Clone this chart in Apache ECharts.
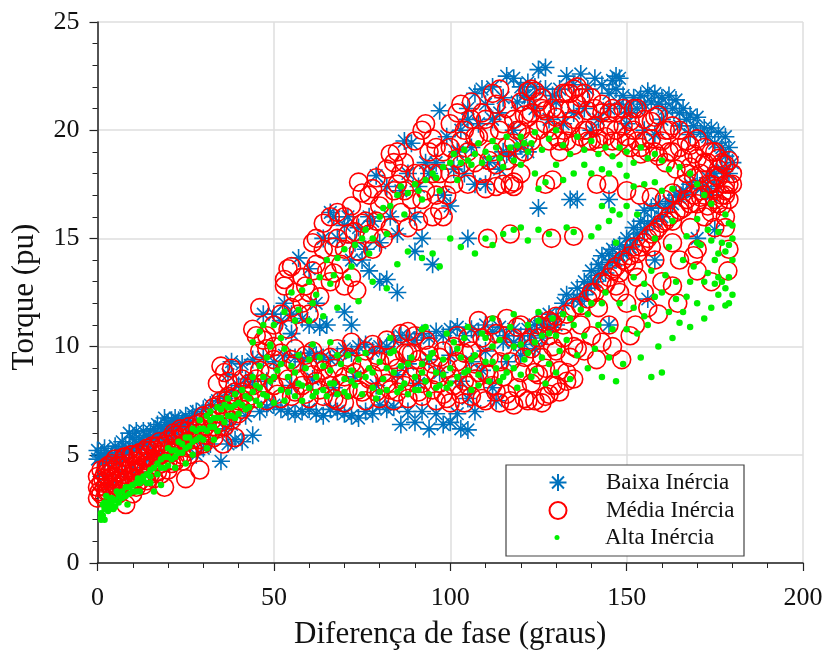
<!DOCTYPE html>
<html>
<head>
<meta charset="utf-8">
<title>Torque x diferença de fase</title>
<script src="https://cdn.jsdelivr.net/npm/echarts@6/dist/echarts.min.js"></script>
<style>
  html, body { margin: 0; padding: 0; background: #fff; }
  #chart { width: 827px; height: 650px; }
</style>
</head>
<body>
<div id="chart"></div>
<script>
// pontos: [diferenca de fase, torque]
const baixaInercia = [
  [0,5.2],[1,5],[2,5.3],[1,4.9],[3,5.1],[4,5],[5,5.4],[6,5.2],[7,5.6],[8,5.3],[9,6],[10,5.8],[11,6.1],[12,5.7],[13,6.1],[14,5.9],[15,6.1],[16,6.2],[17,6.4],[18,6.3],[19,6.7],[20,6.5],[21,6.6],[22,6.7],[23,6.6],[24,6.5],[25,6.8],[26,6.6],[27,6.9],[28,7],[30,7.1],[32,7.3],[34,7.5],[36,7.6],[38,7.9],[40,8.2],[42,8.5],[44,8.4],
  [0,4.8],[2,4.7],[3,4.6],[4,4.8],[5,4.9],[6,4.7],[7,5],[8,5.1],[9,5.2],[10,5.3],[11,5.5],[12,5.4],[13,5.6],[14,5.5],[15,5.7],[16,5.8],[17,5.9],[18,5.9],[19,6],[20,6.1],[21,6.2],[22,6.3],[23,6.3],[24,6.4],[26,6.4],
  [2,4],[3,3.6],[5,3.8],[8,4],[10,4.4],[12,4.2],[14,4.8],[16,5],[18,5],[20,5.5],[22,5.6],[24,5.8],[26,6],[28,5],[30,5.3],[32,5.5],[35,4.7],[37,5.5],[39,5.7],[41,5.6],[44,5.9],[36,6.2],[38,6.4],[42,6.8],[46,7],[48,7.2],
  [50,7.3],[52,7.1],[54,7],[56,6.9],[58,7],[60,7.1],[62,6.9],[64,6.8],[66,7.1],[68,7],[70,6.9],[72,6.8],[74,6.7],[76,7],[78,6.9],[80,7.3],[82,7.1],[84,7.2],[86,6.4],[88,7],[90,6.5],[92,7],[94,6.2],[96,6.9],[98,6.4],[100,6.5],[102,6.9],[103,6.2],[105,6.15],[107,7],
  [37,8.7],[38,9.3],[41,9.2],[44,9.4],[47,9.5],[50,9.3],[53,9.6],[56,9.5],[58,9.3],[60,9.7],[62,9.6],[64,9.5],[66,9.4],[68,9.6],[70,9.9],[72,9.7],[74,10],[76,10.1],[78,9.8],[80,10],[82,10],[84,10.3],[86,10.5],[88,10.4],[90,10.3],[92,10.6],[94,10.4],[96,10.7],[98,10.5],[100,10.8],[102,10.9],[104,10.5],[106,10.8],[108,10.7],[110,11],[112,10.7],[114,10.9],[116,10.5],[118,10.8],[120,10.5],[122,10.8],[124,11],[126,11],
  [48,8.4],[55,8.2],[61,8.5],[67,8.1],[73,8.6],[79,8.2],[85,8.7],[91,8.3],[97,8.8],[103,8.4],[109,8.9],[112,8.1],[116,9.3],[120,9.6],[124,9.9],[110,9.8],[106,9.3],[100,9.6],[94,9.4],[88,9.2],[105,7.6],[113,7.5],[115,10.2],[118,10.2],[121,10.1],[123,10.5],[126,10.4],[128,10.9],[130,11],
  [126,11.2],[128,11.5],[130,11.4],[132,12],[133,12.4],[135,12.2],[136,12.7],[138,13],[140,13.5],[142,13.8],[143,14.2],[145,14.3],[146,14.5],[148,14.7],[150,15],[152,15.5],[154,15.8],[155,16.3],[157,16.4],[159,16.6],[160,16],[162,16.7],[164,17],[166,17.2],[168,17.5],[170,17.6],[141,13],[144,13.4],[147,14],[138,12.4],[149,14.3],[151,14.6],[145,11],[156,12.2],[158,14],[175,15.4],[170,15],
  [137,12.1],[139,12.7],[140,13],[142,13.3],[143,13.6],[145,13.9],[146,14],[148,14.2],[150,14.5],[152,14.9],[153,15.2],[155,15.4],[156,15.7],[158,15.8],[161,16.4],[163,16.6],[165,16.9],[167,17.1],[171,17.3],[173,17.3],[174,17],[176,17.4],
  [180,18.5],[179,19.2],[178,19.7],[176,19.9],[174,20.1],[172,20.1],[170,20.6],[168,20.7],[166,21],[164,21.4],[162,21.6],[160,21.5],[158,21.7],[156,21.8],[154,21.6],[152,21.5],[150,21],[148,22.4],[146,22.3],[147,22.5],[143,22.1],[141,22.4],[137,22.6],[133,22.5],[127,22.9],[125,22.8],[122,22.2],[120,22],[118,22.4],[116,22.5],[112,22],[109,21.9],[107,21.7],[178,18.8],[177,18.2],[175,18],[173,17.8],[179,18],
  [177,19.2],[175,19.4],[173,19.7],[171,19.9],[169,20.2],[167,20.5],[165,20.8],[163,21],[161,21],[159,21.2],[157,21.3],[155,21.2],[153,21],[151,20.8],[149,21.6],[147,21.9],[145,21.7],[139,21.9],[135,22.1],[131,21.9],[129,21.6],[127,21.9],[124,22],[121,21.6],[119,21.3],[115,21.5],[114,20.8],[110,21.2],[105,21],
  [105,20.5],[108,20.3],[112,20.5],[115,19],[118,18.9],[120,19.3],[122,19],[118,20],[124,21],[128,20.5],[132,20.3],[135,20.8],[138,21],[140,20],[142,20.5],[145,21],[150,20.3],[155,20],[158,19.8],[160,20.5],[122,21.5],[130,21.3],[148,21.2],[165,20.2],[168,19.8],
  [47,11.5],[50,11.5],[52,11.2],[53,12],[55,11.5],[57,14.1],[60,13.6],[62,12],[64,15],[66,16.2],[68,15],[71,16],[72,14],[74,15.5],[75,14],[77,16],[79,17.9],[82,17.4],[87,19.5],[88,18],[90,16],[92,15],[94,18],[97,20.9],[98,17],[100,16.5],[102,19],[104,18],[107,17.5],[110,17.5],[105,15],[95,13.8],[90,14.4],[85,12.5],[80,13],[77,13.5],[82,13.1],[70,11.6],[72,11],[65,11],[60,11],[58,11.3],[63,10.9],[55,10.6],[125,16.4],[134,16.8],[136,16.8],[145,16.8],[85,15.2],[80,14.8],[89,19.4],[96,18.5],[101,18.2],
  [67,16],[70,15.6],[73,14.8],[76,14.5],[78,15.8],[83,16],[86,17.2],[91,17.4],[93,18.5],[99,19.7],[103,20],[106,19.2],[111,18.5],[114,18.2],[116,18.9]
];

const mediaInercia = [
  [0,3],[0,3.5],[0,4],[1,3.2],[1,3.7],[1,4.3],[2,3],[2,3.5],[2,4.1],[3,3.3],[3,3.9],[3,4.5],[4,3.4],[4,4],[4,4.6],[5,3.4],[5,4],[5,4.8],[6,3.5],[6,4.2],[7,3.7],[7,4.5],[8,3.8],[8,2.7],[8,4.9],[9,4],[9,4.6],[10,3.2],[10,4.2],[10,5],[11,3.9],[11,4.7],[12,4.3],[12,5.1],[13,3.6],[13,4.5],[14,4.1],[14,5.3],[15,4.4],[15,5.2],[16,4.7],[16,3.9],[17,4.5],[17,5.4],[18,5],[18,4.1],[19,3.5],[19,5.2],[20,4.7],[20,5.7],[21,5.1],[22,4.7],[22,5.9],[23,5.3],[24,5],[24,6.1],[25,3.9],[25,5.6],[26,5.3],[26,6.3],[27,5.7],[28,6.4],[29,4.3],[29,5.7],[30,6.2],[30,6.8],[31,6.5],[32,6.9],[33,6.3],[33,7.2],[34,6.9],[35,7.5],[35.6,5.5],[36,7.1],[37,7.7],[38,7.3],[39,5.8],[39,7.9],[40,7.5],
  [0.5,3.3],[1.5,3.9],[2.5,3.3],[2.5,4.4],[3.5,3.6],[3.5,4.2],[4.5,3.7],[4.5,4.3],[5.5,3.8],[5.5,4.5],[6.5,3.9],[6.5,4.6],[7.5,4.1],[7.5,4.9],[8.5,4.3],[9.5,4.4],[9.5,5],[10.5,4.5],[11.5,4.3],[11.5,5],[12.5,4.7],[13.5,4.9],[13.5,5.2],[14.5,4.7],[15.5,4.8],[15.5,5.4],[16.5,5.2],[17.5,5],[17.5,5.6],[18.5,5.4],[19.5,5.5],[20.5,5.3],[21.5,5.5],[21.5,6],[22.5,5.7],[23.5,5.8],[23.5,6.2],[24.5,5.9],[25.5,6.1],[26.5,5.9],[27.5,6.1],[28.5,6.2],[29.5,6.5],[30.5,6.3],[31.5,6.1],[32.5,6.6],[34.5,7.3],[36.5,7.5],[38.5,7.6],[41,7.9],[41,7.1],[43,7.7],[43,8.3],[45,7.6],[45,8.5],
  [6,3.2],[9,3.5],[11,3.5],[12,3.8],[14,3.8],[15,4.1],[17,4.2],[18,4.6],[20,4.3],[21,4.6],[23,4.9],[24,4.7],[26,5],[27,5.3],[28,5.4],[30,5.5],[31,5.9],[32,6],[33,5.8],[34,6.2],[35,6.5],[36,6.3],[37,6.7],[38,6.6],[40,6.9],
  [34,8.3],[35,9.1],[36,8.8],[37,8.4],[38,9],[41,8.5],[43,8.9],[44,10.8],[46,11.8],[45,10.5],[47,10.3],[48,9.9],[50,11],[53,12.8],[54,13.6],[55,13.7],[53,13.1],[56,12.5],[58,12],[60,12.5],[61,14.8],[62,15],[64,15.7],[65,13.5],[66,16],[68,15],[70,14.5],[72,16.5],[74,17.6],[75,17.1],[73,15.3],[76,15.8],[78,14.5],[80,16.5],[82,18.2],[83,18.9],[84,18.5],[85,17.5],[86,16.2],[88,15.5],[92,20],[93,20.3],[94,19],[95,18],[96,17],[98,16],[100,20.3],[102,20.8],[103,21.2],[104,20],[105,19],[107,18.5],[110,20.5],[112,21.7],[113,21.2],[115,20.3],[112,19],[115,17.5],[118,17.4],[118,20.5],[120,21.3],[122,21.8],[90,18],[92,16.8],[100,18],[102,18.7],[96,19.2],[78,17.3],[86,18],[70,16],[58,13.2],[62,13.8],[108,19.7],[111,19.9],[116,19.2],
  [48,10.5],[50,10],[52,11.5],[54,10.8],[55,11.8],[57,11.5],[59,12.8],[60,11.5],[61,13.5],[63,12.3],[64,14.5],[66,13],[67,14.6],[68,16.2],[69,13.8],[71,15.2],[72,13.2],[74,14.4],[75,15.7],[77,15.2],[77,17],[79,15.8],[79,17.8],[81,15],[81,16.8],[83,15.5],[84,17.2],[85,19],[87,17.2],[87,18.5],[89,16.8],[90,19.5],[91,15.8],[92,18],[93,17.2],[95,16],[95,19.6],[97,18],[97,16.3],[98,19],[99,17],[100,19.2],[101,17.5],[103,18.4],[103,19.5],[105,17.5],[106,20.5],[106,21.3],[107,19.7],[109,18],[109,20.8],[110,17.3],[111,18.6],[113,18.4],[114,20],[114,21.9],[116,18.6],[116,21],[117,17.5],[119,18.8],[119,20],[120,18],[121,19],[121,20.7],[122,19.7],[123,20.8],[123,21.9],
  [73.5,12.6],[67,13.4],[70,12.8],[110.6,15],[117,15.2],[128.7,15],[135,15.1],[113,17.4],[118,17.6],[127,17.5],[129,17.7],[141.5,17.5],[145,17.5],[150,17.2],[153.7,17],[157,16.9],[160.7,16.8],[163,17.1],[166,17.5],[131,19],[135,19.3],[139,19.5],
  [180,18],[179,17.5],[178,18.4],[177,17],[176,18.7],[175,19],[174,17.5],[172,19.2],[171,18],[170,19.6],[168,18.3],[167,19.5],[165,20],[163,20.2],[161,20],[159,20.7],[157,20.4],[155,19.5],[153,21],[151,20.4],[149,20.2],[147,20],[145,20.8],[143,20.8],[141,21],[139,20.9],[137,21.5],[135,21.9],[133,21.7],[134,21],[136,22],[131,19.5],[129,20],[127,20.3],[125,20],[123,19.5],[178,17.2],[176,17.8],[173,18.5],[169,18.9],[162,19],[158,19],[154,19.2],[150,19.4],[146,19.2],[142,19.6],[138,20],[134,20.2],[130,20.6],[126,21],[122,20.6],[120,20],[118,19.4],[124,21.8],[126,21.5],
  [125,21.3],[127,20.9],[128,19.5],[129,21],[130,19.7],[131,21],[132,20],[132,21.7],[133,19.5],[134,21.7],[135,20.5],[136,21.2],[137,19.7],[138,21.7],[139,20],[140,19.5],[140,21.5],[141,20.2],[142,19.4],[143,21.2],[144,19.7],[145,20.2],[146,19.5],[146,21],[147,20.8],[148,19.5],[149,21],[150,19.7],[151,19.2],[152,20],[152,21],[153,19.5],[154,18.9],[155,20.5],[156,19],[157,19.6],[158,20.6],[159,18.8],[160,19.5],[161,18.5],[162,20],[163,19],[164,18.2],[165,19.2],[166,18.7],[167,18],[168,19.3],[169,17.8],[170,18.7],[171,17.2],[172,18.5],[173,17.5],[174,19],[175,17.9],[176,18.2],[177,18.5],[178,17],[179,18.6],[180,17.5],[175,16.8],[177,16.5],[173,16.5],[179,16.8],[178,15.5],
  [179,14.5],[178.7,13.5],[174,13],[170,13.5],[169,14.2],[164.5,12],[163,12.8],[159,11.5],[152.5,11],[151,10.5],[148.6,9.4],[141.5,9.4],[135,8.5],[133,8.4],[128,7.8],[146,10],[143,10.2],[138,9.8],[156,11.8],
  [125,11],[130,11.4],[135,11.8],[140,12.5],[143,13],[146,13.5],[149,14],[152,14.6],[155,14.8],[158,15.3],[160,15.7],[162,16],[165,16.3],[168,16.6],[172,17],[175,17.3],[178,17.5],[135,10],[140,10.5],[145,11],[150,12],[155,12.5],[160,13],[165,14],[170,14.5],[175,15.5],[178,16],[148,12.5],[153,13.2],[158,14],[163,14.8],[168,15.5],[172,16],[128,10.5],[132,11],[137,11],[142,11.8],[147,12.8],[152,13.7],[157,14.6],
  [127,10.9],[129,11.1],[133,11.5],[137,11.9],[139,12.2],[141,12.5],[144,12.9],[145,13.2],[147,13.7],[148,13.4],[150,13.9],[151,14.2],[153,14.3],[154,14.6],[156,15],[157,15.2],[159,15.5],[161,15.8],[163,15.8],[164,16.2],[166,16.4],[167,16.8],[169,17],[170,16.6],[171,16.9],[174,16.2],[176,16.6],
  [42,7.4],[44,8.2],[46,7.8],[46,8.9],[48,7.5],[50,8.2],[50,9.4],[52,7.6],[54,8.5],[56,7.9],[56,9.2],[58,8.2],[60,7.6],[60,9],[62,8.4],[64,7.7],[64,8.9],[66,9.5],[66,8.2],[68,7.5],[70,8.6],[70,7.4],[72,9.2],[74,8],[76,9.8],[76,7.5],[78,10.1],[78,8.7],[80,7.6],[80,9.3],[82,10.3],[82,8.3],[84,7.5],[84,9.4],[86,10.6],[86,8.5],[88,7.6],[88,10.7],[90,9],[90,10.5],[92,7.7],[92,8.3],[94,9.6],[94,10],[96,7.5],[96,8.7],[98,9.8],[98,7.8],[100,8.7],[100,7.4],[102,9.3],[102,10.5],[104,7.4],[104,8.4],[106,9.8],[106,7.7],[108,8.8],[108,11.2],[110,7.5],[110,10.2],[112,8.2],[112,11],[114,7.4],[114,9.3],[116,11.3],[116,7.8],[118,7.3],[118,10.4],[120,8.8],[120,11],[122,7.5],[122,10.2],[124,7.5],[124,8.8],[126,7.4],[126,9.5],[128,11.2],[130,8.2],[130,9.8],[132,10.4],[133,8.8],[136,9.9],
  [46,9.8],[52,9.7],[56,9.9],[61,9.8],[68,9.9],[72,10.2],[88,9.7],[104,9.7],[110,8.8],
  [47,8.3],[49,8.8],[51,7.8],[53,8.9],[55,7.7],[55,9.4],[57,8.5],[59,7.8],[59,9.6],[61,8.7],[63,8],[63,9.3],[65,8.6],[67,7.6],[67,9],[69,8.3],[71,8],[71,9.5],[73,8.8],[75,7.9],[75,9.2],[77,8.5],[79,7.9],[79,9.6],[81,8.8],[83,8],[83,9.5],[85,7.9],[85,9],[87,9.7],[87,8.2],[89,8.6],[89,9.7],[91,7.9],[91,9.4],[93,8.8],[93,10.3],[95,8],[95,9.2],[97,9.5],[97,8.3],[99,7.6],[99,9],[101,8.2],[101,10],[103,7.8],[103,9],[105,8.2],[105,10.4],[107,8.5],[107,9.2],[109,7.6],[109,10.4],[111,8.7],[111,9.5],[113,7.9],[113,10.6],[115,8.6],[115,10],[117,7.5],[117,9.3],[119,8.1],[119,10.9],[121,9.5],[121,7.6],[123,8.3],[123,9.9],[125,8.7],[125,10.4],[127,7.7],[127,9],[129,8.2],[129,10],[131,8.9],[131,7.9],[134,9.5]
];

const altaInercia = [
  [1,2],[1,2.3],[1.5,2.7],[2,2],[2,2.5],[2.5,3.1],[3,2.4],[3.5,2.9],[4,3],[4.5,2.5],[5,2.9],[5.5,3.3],[6,3.1],[7,3],[8,3.5],[8.5,2.7],[9,3.2],[10,3.6],[11,3.3],[11.5,3.9],[12,3.3],[13,3.8],[14,4.1],[15,3.7],[15,4.3],[16,3.3],[17,4.1],[18,4.4],[18,3.6],[19,4.9],[20,4.5],[20,5.3],[21,4.8],[22,5.2],[22,4.4],[23,5.6],[24,5.1],[25,5.8],[25,4.6],[26,5.4],[27,6.2],[27,5],[28,5.7],[29,6.6],[29,5.8],[30,6.2],[31,6.8],[31,5.3],[32,7],[32,6.3],[33,5.7],[33,6.7],[34,7.2],[34,6.1],[35,6.7],[36,7.3],[37,6.8],[37,7.6],[38,7.2],[39,7.8],[39,6.7],[40,7.4],[41,8],[42,7.1],[43,7.6],[44,8.6],[45,7.5],[46,8.1],
  [1,2.1],[1.5,2.2],[2,2.8],[3,2.7],[3.5,2.5],[4,2.7],[5,2.6],[6,2.8],[7,3.3],[8,3.1],[9,3.5],[10,3.3],[11,3.7],[12,3.7],[13,4],[14,3.7],[15,4],[16,4.4],[17,4.6],[18,4.8],[19,4.4],[20,4.9],[21,5.2],[22,4.9],[23,5.1],[24,5.5],[25,5.3],[26,5.8],[27,5.6],[28,6.1],[29,6.2],[30,5.7],[31,6.1],[32,6.6],[33,6.3],[34,6.7],[35,7.1],[36,6.5],[37,7.2],[38,6.8],[39,7.3],[40,6.9],[41,7.3],[42,7.7],[43,7.2],[44,7.9],[45,8.2],[46,7.3],[47,7.8],[47,8.6],
  [48,7.7],[49,8.4],[50,7.4],[51,8.9],[52,8],[53,7.5],[54,8.6],[55,9.1],[56,7.7],[57,8.3],[58,7.5],[59,9],[60,8.1],[61,7.7],[62,8.6],[63,9.5],[64,8],[65,7.7],[66,8.9],[67,8.3],[68,7.8],[69,9.2],[70,8.5],[71,7.7],[72,8.9],[73,8.2],[74,9.4],[75,7.8],[76,8.6],[77,9],[78,8.1],[79,7.6],[80,9.3],[81,8.5],[82,8],[83,9.7],[84,8.8],[85,7.9],[86,9.1],[87,8.3],[88,7.8],[89,9.5],[90,8.6],[91,8],[92,9.2],[93,8.4],[94,7.8],[95,9.7],[96,8.8],[97,8.2],[98,9.4],[99,8.1],[100,9],[101,10.2],[102,8.6],[103,9.5],[104,10.4],[105,8.9],[106,8],[107,9.6],[108,8.7],[109,10.6],[110,9.3],[111,8.4],[112,10],[113,9],[114,10.3],[115,8.6],[116,9.5],[117,10.9],[118,9],[119,8.1],[120,10.1],[121,9.4],[122,11],[123,8.6],[124,10.2],[125,11.2],[126,9.5],[127,8.3],[128,10.6],[129,11.3],[130,8.8],[131,9.8],[132,11.5],[133,10.3],[134,8.5],[135,11],[136,9.6],[137,11.7],[138,10.5],[139,9],[140,12],[141,9.9],[142,11],[143,8.6],[144,12.5],[145,9.5],[146,10.8],[147,8.4],[148,12],[149,9.2],
  [50,8.6],[52,9.2],[54,7.9],[56,8.8],[58,8.2],[60,9.4],[62,7.9],[64,9.1],[66,8.3],[68,9.6],[70,7.9],[72,8.4],[74,8.7],[76,9.7],[78,8.8],[80,7.9],[82,9],[84,9.8],[86,8.1],[88,9.2],[90,8],[92,8.8],[94,9.5],[96,8.1],[98,8.7],[100,8.3],[102,9.9],[104,8.8],[106,9.4],[108,8.2],[110,10.4],[112,9.3],[114,8.4],[116,8.8],[118,10],[120,8.7],[122,9.7],[124,8.9],[126,10.5],[128,9.2],[46,9.1],[48,9.5],[49,10],[53,9.9],[57,9.6],[61,10.1],[66,10.2],[71,9.6],[83,10.4],[92,10.8],[93,10.9],[99,10.6],[105,10.9],[112,11.3],[118,11.5],[125,11.6],[130,10.5],[134,11.3],[139,11.5],[143,12],
  [152,11.8],[153,10.6],[154,9.5],[155,12.9],[156,11],[157,8.6],[158,12.3],[159,10],[160,8.8],[161,13.3],[162,11.6],[163,10.4],[164,13],[165,11.1],[166,14],[167,12.3],[168,10.9],[169,13.7],[170,12],[171,14.7],[172,11.3],[173,13.4],[174,11.8],[175,14],[176,12.4],[176,15.3],[177,13],[178,14.4],[178,11.9],[179,15.7],[179,13.2],[180,15],[180,14],[178,16.1],[176,14.3],[173,15.4],[170,15.9],[167,15.1],[163,15.8],[158,15],
  [150,10.8],[152,13.2],[155,11.4],[157,13.5],[160,12.5],[162,14.6],[164,12.2],[166,11.6],[168,13],[170,14.8],[172,13],[174,14.9],[175,12.9],[177,14.8],[178,12.7],[179,14.7],[179,12],[180,12.4],[180,15.6],[176,13.2],
  [44,10.2],[46,10.7],[50,11],[52,10.4],[55,12.5],[57,11.7],[60,13],[62,12.4],[65,14],[67,13.3],[70,14.5],[72,13.7],[75,15],[77,14.3],[80,16],[82,15.2],[85,17],[87,16.1],[90,17.5],[92,16.8],[95,18],[97,17.2],[100,18.5],[102,17.7],[104,19.1],[106,18.4],[108,19.4],[110,19],[112,19.5],[114,18.7],[116,19.7],[118,18.6],[120,19.7],[122,19],[124,19.9],[126,19.1],[128,19.6],[130,20],[132,19.3],[134,18.9],[136,19.7],[138,19.1],[140,19.5],[142,18.9],[144,19.2],[146,18.8],[148,19.2],[150,19],[152,18.5],[154,19.2],[156,18.7],[158,18.9],[160,18.6],[162,18.2],[165,18.3],[168,18],[170,17.5],[172,17],[174,16.6],
  [47,11],[49,10.1],[53,11.6],[56,11.2],[58,12.6],[61,12],[63,13.2],[66,12.9],[68,14.1],[71,13.2],[73,14.7],[76,15.4],[78,15],[81,16.4],[83,16.5],[86,17.4],[88,17.1],[91,17.2],[93,17.7],[96,17.8],[98,18.3],[101,18.9],[103,18.5],[105,18.6],[107,18.9],[109,18.5],[111,18.7],[113,19.2],[115,18.3],[117,19.2],[119,19.3],[121,19.4],[123,19.4],
  [120,18.4],[124,18],[125,17.3],[127,17.6],[130,18.4],[132,17.7],[135,18],[138,18.4],[140,18],[143,18.2],[145,18],[148,18.4],[150,17.9],[152,17.4],[155,17.5],[158,17.6],[160,17.2],[163,17.3],[143,16.5],[146,16.3],[148,16.1],
  [85,13.8],[88,14.4],[92,14.1],[95,14.3],[97,13.7],[100,15],[103,14.6],[107,14.3],[110,15],[112,14.7],[115,15.2],[118,15.4],[120,15.5],[122,14.9],[125,15.4],[128,15.2],[133,15.5],[135,15.3],[140,15.1],[142,15.5],[145,15.8],[147,14.8],[150,16.5],[153,16.1],[78,13],[82,12.7],[74,12.1],[68,11.8],[64,11.4],[60,11.2]
];

const torqueTicks = [0, 5, 10, 15, 20, 25];

const starPath = 'path://M10,0L10,20M0,10L20,10M3,3L17,17M3,17L17,3';
const serifFont = '"Liberation Serif", "DejaVu Serif", serif';

const chart = echarts.init(document.getElementById('chart'), null, { renderer: 'canvas' });

// uma legenda por serie, para o simbolo verde ficar menor
function legendItem(name, top, iconSize) {
  return {
    data: [name],
    left: 557 - iconSize / 2,
    top: top,
    padding: 0,
    itemWidth: iconSize,
    itemHeight: iconSize,
    selectedMode: false,
    textStyle: {
      fontFamily: serifFont,
      fontSize: 23,
      color: '#111',
      padding: [0, 0, 0, 43 - iconSize / 2]
    },
    z: 5
  };
}

chart.setOption({
  animation: false,
  backgroundColor: '#fff',
  grid: { left: 97.5, right: 24, top: 22, bottom: 87, outerBoundsMode: 'none' },
  xAxis: {
    type: 'value',
    min: 0,
    max: 200,
    interval: 50,
    name: 'Diferença de fase (graus)',
    nameLocation: 'middle',
    nameGap: 56,
    nameTextStyle: { fontFamily: serifFont, fontSize: 31, color: '#111' },
    axisLine: { onZero: false, lineStyle: { color: '#222', width: 1.5 } },
    axisTick: { show: true, length: 8, lineStyle: { color: '#222', width: 1.2 } },
    minorTick: { show: true, splitNumber: 5, length: 5, lineStyle: { color: '#222', width: 1 } },
    axisLabel: { fontFamily: serifFont, fontSize: 26, color: '#111', margin: 22 },
    splitLine: { show: true, lineStyle: { color: '#dedede', width: 1.5 } }
  },
  yAxis: {
    type: 'value',
    min: 0,
    max: 25,
    interval: 5,
    name: 'Torque (pu)',
    nameLocation: 'middle',
    nameGap: 57,
    nameTextStyle: { fontFamily: serifFont, fontSize: 31, color: '#111', padding: [0, 9, 0, 0] },
    axisLine: { onZero: false, lineStyle: { color: '#222', width: 1.5 } },
    axisTick: { show: true, length: 8, lineStyle: { color: '#222', width: 1.2 } },
    minorTick: { show: true, splitNumber: 5, length: 5, lineStyle: { color: '#222', width: 1 } },
    axisLabel: {
      fontFamily: serifFont,
      fontSize: 26,
      color: '#111',
      margin: 18,
      formatter: (v) => (torqueTicks.includes(v) ? String(v) : '')
    },
    splitLine: { show: true, lineStyle: { color: '#dedede', width: 1.5 } }
  },
  legend: [
    legendItem('Baixa Inércia', 471, 17),
    legendItem('Média Inércia', 499, 17),
    legendItem('Alta Inércia', 526, 5)
  ],
  graphic: [{
    type: 'rect',
    z: 4,
    shape: { x: 506, y: 465, width: 238, height: 91 },
    style: { fill: '#fff', stroke: '#444', lineWidth: 1.2 }
  }],
  series: [
    {
      name: 'Baixa Inércia',
      type: 'scatter',
      data: baixaInercia,
      symbol: starPath,
      symbolSize: 18,
      itemStyle: { color: 'transparent', borderColor: '#0072BD', borderWidth: 1.6, opacity: 1 }
    },
    {
      name: 'Média Inércia',
      type: 'scatter',
      data: mediaInercia,
      symbol: 'circle',
      symbolSize: 18,
      itemStyle: { color: 'transparent', borderColor: '#ff0000', borderWidth: 1.6, opacity: 1 }
    },
    {
      name: 'Alta Inércia',
      type: 'scatter',
      data: altaInercia,
      symbol: 'circle',
      symbolSize: 6.5,
      itemStyle: { color: '#00f000', opacity: 1 }
    }
  ]
});
</script>
</body>
</html>
